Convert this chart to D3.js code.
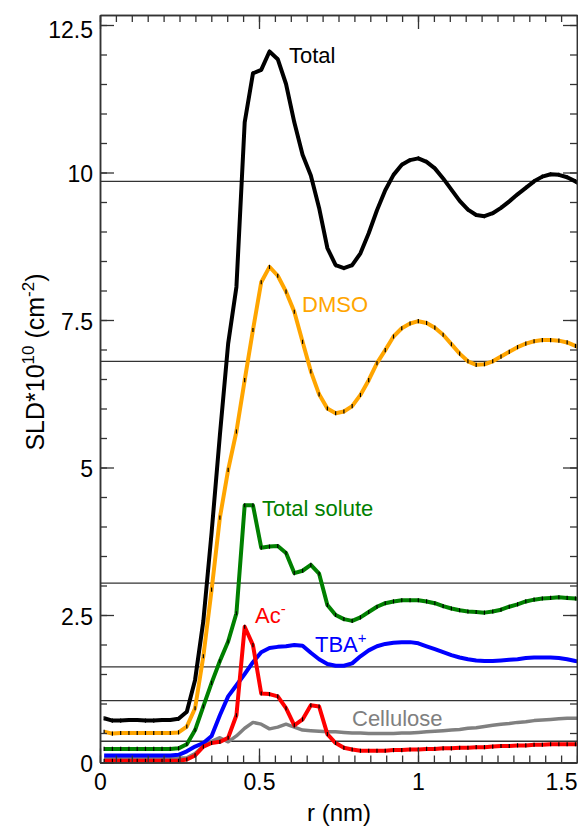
<!DOCTYPE html>
<html>
<head>
<meta charset="utf-8">
<script src="https://cdn.jsdelivr.net/npm/d3@7"></script>
<style>
  body { margin: 0; background: #fff; }
  svg { font-family: "Liberation Sans", Arial, sans-serif; }
</style>
</head>
<body>
<script>
// r grid (nm)
var rVals = [0.013,0.039,0.065,0.091,0.117,0.143,0.169,0.195,0.221,0.247,0.273,0.299,0.325,0.351,0.377,0.403,0.429,0.455,0.481,0.507,0.533,0.559,0.585,0.611,0.637,0.663,0.689,0.715,0.741,0.767,0.793,0.819,0.845,0.871,0.897,0.923,0.949,0.975,1.001,1.027,1.053,1.079,1.105,1.131,1.157,1.183,1.209,1.235,1.261,1.287,1.313,1.339,1.365,1.391,1.417,1.443,1.469,1.495,1.521];

var total = [0.75,0.71,0.71,0.72,0.72,0.71,0.71,0.72,0.72,0.74,0.86,1.40,2.40,3.90,5.55,7.10,8.06,10.85,11.68,11.74,12.05,11.92,11.50,10.85,10.30,9.95,9.40,8.72,8.43,8.38,8.43,8.63,8.97,9.36,9.70,9.96,10.13,10.21,10.24,10.18,10.07,9.90,9.71,9.52,9.37,9.28,9.26,9.31,9.40,9.51,9.63,9.74,9.85,9.93,9.97,9.96,9.92,9.85,9.76];
var dmso = [0.52,0.49,0.50,0.50,0.50,0.50,0.50,0.50,0.50,0.51,0.61,0.92,1.80,2.93,4.15,4.96,5.61,6.48,7.33,8.14,8.40,8.25,7.98,7.64,7.13,6.63,6.24,6.00,5.92,5.95,6.04,6.23,6.48,6.77,6.99,7.22,7.36,7.44,7.48,7.45,7.37,7.25,7.09,6.93,6.80,6.74,6.75,6.80,6.88,6.96,7.04,7.10,7.14,7.16,7.16,7.15,7.12,7.06,7.00];
var solute = [0.23,0.23,0.23,0.23,0.23,0.23,0.23,0.23,0.23,0.24,0.31,0.55,0.95,1.35,1.72,2.05,2.53,4.36,4.36,3.64,3.66,3.67,3.55,3.21,3.25,3.35,3.20,2.67,2.50,2.43,2.40,2.46,2.55,2.64,2.70,2.73,2.75,2.75,2.75,2.73,2.70,2.65,2.61,2.58,2.56,2.55,2.54,2.56,2.59,2.64,2.68,2.73,2.76,2.78,2.79,2.80,2.79,2.78,2.76];
var tba = [0.12,0.12,0.12,0.12,0.12,0.12,0.12,0.12,0.12,0.13,0.19,0.27,0.33,0.45,0.80,1.12,1.31,1.50,1.70,1.87,1.94,1.96,1.97,1.99,1.98,1.86,1.75,1.67,1.64,1.64,1.68,1.80,1.90,1.97,2.01,2.03,2.04,2.04,2.02,1.97,1.92,1.87,1.82,1.78,1.75,1.73,1.72,1.72,1.73,1.74,1.75,1.77,1.78,1.78,1.78,1.77,1.75,1.72,1.70];
var acetate = [0.03,0.03,0.03,0.03,0.03,0.03,0.03,0.03,0.03,0.03,0.05,0.12,0.27,0.33,0.35,0.42,0.80,2.30,1.99,1.17,1.16,1.12,0.92,0.63,0.73,0.97,0.95,0.48,0.33,0.25,0.22,0.20,0.20,0.20,0.20,0.21,0.21,0.22,0.22,0.23,0.23,0.24,0.24,0.25,0.25,0.26,0.26,0.27,0.28,0.28,0.29,0.29,0.30,0.30,0.31,0.31,0.31,0.31,0.31];
var cellulose = [0.07,0.07,0.07,0.07,0.07,0.07,0.07,0.07,0.07,0.07,0.08,0.15,0.28,0.36,0.42,0.35,0.45,0.58,0.68,0.65,0.57,0.60,0.65,0.60,0.55,0.54,0.53,0.52,0.52,0.51,0.50,0.50,0.49,0.49,0.49,0.49,0.50,0.50,0.51,0.52,0.53,0.54,0.55,0.56,0.58,0.59,0.61,0.63,0.65,0.66,0.68,0.69,0.71,0.72,0.73,0.74,0.75,0.75,0.76];

// bulk reference levels (horizontal lines)
var refLevels = [9.85, 6.80, 3.04, 1.62, 1.05, 0.36];

var yMajor = [0, 2.5, 5, 7.5, 10, 12.5];
var yMinor = d3.range(0, 12.51, 0.5);
var xMajor = [0, 0.5, 1, 1.5];
var xMinor = d3.range(0, 1.501, 0.05);
var errHalf = 0.035;

var width = 578, height = 827;
var plotLeft = 100, plotRight = 577, plotTop = 15, plotBottom = 762.5;

var svg = d3.select("body").append("svg")
    .attr("width", width)
    .attr("height", height);

var x = d3.scaleLinear().domain([0, 1.5]).range([plotLeft, plotRight]);
var y = d3.scaleLinear().domain([0, (plotBottom - plotTop) / 59]).range([plotBottom, plotTop]);

svg.append("clipPath").attr("id", "plot")
  .append("rect")
    .attr("x", plotLeft).attr("y", plotTop)
    .attr("width", plotRight - plotLeft).attr("height", plotBottom - plotTop);

// reference lines
svg.append("g").selectAll("line")
    .data(refLevels)
    .enter().append("line")
    .attr("x1", plotLeft).attr("x2", plotRight)
    .attr("y1", function(d) { return y(d); })
    .attr("y2", function(d) { return y(d); })
    .style("stroke", "#333")
    .style("stroke-width", 1.3);

var line = d3.line()
    .x(function(d, i) { return x(rVals[i]); })
    .y(function(d) { return y(d); });

var series = [
  {vals: cellulose, color: "#808080", bars: false, w: 3.5},
  {vals: tba, color: "#0000ff", bars: false, w: 4},
  {vals: solute, color: "#008000", bars: true, w: 4},
  {vals: dmso, color: "#ffa500", bars: true, w: 4},
  {vals: total, color: "#000000", bars: true, w: 4},
  {vals: acetate, color: "#ff0000", bars: true, w: 4}
];

var plot = svg.append("g").attr("clip-path", "url(#plot)");

series.forEach(function(s) {
    plot.append("path")
        .datum(s.vals)
        .attr("d", line)
        .style("fill", "none")
        .style("stroke", s.color)
        .style("stroke-width", s.w)
        .style("stroke-linejoin", "round");
    if (s.bars) {
        plot.append("g").selectAll("line")
            .data(s.vals)
            .enter().append("line")
            .attr("x1", function(d, i) { return x(rVals[i]); })
            .attr("x2", function(d, i) { return x(rVals[i]); })
            .attr("y1", function(d) { return y(d - errHalf); })
            .attr("y2", function(d) { return y(d + errHalf); })
            .style("stroke", "#000")
            .style("stroke-width", 1.2);
    }
});

// axes, ticks pointing inward
function styleAxis(g) {
    g.selectAll("path").style("stroke", "#333").style("stroke-width", 1.5);
    g.selectAll("line").style("stroke", "#333").style("stroke-width", 1.3);
    g.selectAll("text").style("font-size", "23px").style("fill", "#000")
        .style("font-family", "Liberation Sans, Arial, sans-serif");
}

svg.append("g").attr("transform", "translate(0," + plotBottom + ")")
    .call(d3.axisBottom(x).tickValues(xMinor).tickSize(-7).tickFormat("").tickSizeOuter(0))
    .call(styleAxis);
var xAxis = svg.append("g").attr("transform", "translate(0," + plotBottom + ")")
    .call(d3.axisBottom(x).tickValues(xMajor).tickSize(-14).tickPadding(11).tickSizeOuter(0).tickFormat(d3.format("")))
    .call(styleAxis);
xAxis.selectAll(".tick").filter(function(d) { return d === 1.5; })
    .select("text").attr("text-anchor", "end");

svg.append("g").attr("transform", "translate(0," + plotTop + ")")
    .call(d3.axisTop(x).tickValues(xMinor).tickSize(-7).tickFormat("").tickSizeOuter(0))
    .call(styleAxis);
svg.append("g").attr("transform", "translate(0," + plotTop + ")")
    .call(d3.axisTop(x).tickValues(xMajor).tickSize(-14).tickFormat("").tickSizeOuter(0))
    .call(styleAxis);

svg.append("g").attr("transform", "translate(" + plotLeft + ",0)")
    .call(d3.axisLeft(y).tickValues(yMinor).tickSize(-7).tickFormat("").tickSizeOuter(0))
    .call(styleAxis);
var yAxis = svg.append("g").attr("transform", "translate(" + plotLeft + ",0)")
    .call(d3.axisLeft(y).tickValues(yMajor).tickSize(-14).tickPadding(7).tickSizeOuter(0).tickFormat(d3.format("")))
    .call(styleAxis);
yAxis.selectAll("text").attr("dy", "0.4em");
yAxis.selectAll(".tick").filter(function(d) { return d === 12.5; })
    .select("text").attr("dy", "0.55em");

svg.append("g").attr("transform", "translate(" + plotRight + ",0)")
    .call(d3.axisRight(y).tickValues(yMinor).tickSize(-7).tickFormat("").tickSizeOuter(0))
    .call(styleAxis);
svg.append("g").attr("transform", "translate(" + plotRight + ",0)")
    .call(d3.axisRight(y).tickValues(yMajor).tickSize(-14).tickFormat("").tickSizeOuter(0))
    .call(styleAxis);

// axis titles
svg.append("text")
    .attr("x", 339).attr("y", 821)
    .attr("text-anchor", "middle")
    .style("font-size", "24px")
    .text("r (nm)");

var yt = svg.append("text")
    .attr("transform", "translate(44,362) rotate(-90)")
    .attr("text-anchor", "middle")
    .style("font-size", "25px");
yt.append("tspan").text("SLD*10");
yt.append("tspan").attr("dy", -10).style("font-size", "17px").text("10");
yt.append("tspan").attr("dy", 10).text(" (cm");
yt.append("tspan").attr("dy", -10).style("font-size", "17px").text("-2");
yt.append("tspan").attr("dy", 10).text(")");

// series labels
function label(tx, ty, color, main, sup) {
    var t = svg.append("text")
        .attr("x", tx).attr("y", ty)
        .style("font-size", "22px")
        .style("fill", color);
    t.append("tspan").text(main);
    if (sup) t.append("tspan").attr("dy", -9).style("font-size", "15px").text(sup);
}
label(289, 63, "#000000", "Total");
label(302, 312, "#ffa500", "DMSO");
label(262, 516, "#008000", "Total solute");
label(255, 623, "#ff0000", "Ac", "-");
label(315, 652, "#0000ff", "TBA", "+");
label(352, 726, "#808080", "Cellulose");
</script>
</body>
</html>
